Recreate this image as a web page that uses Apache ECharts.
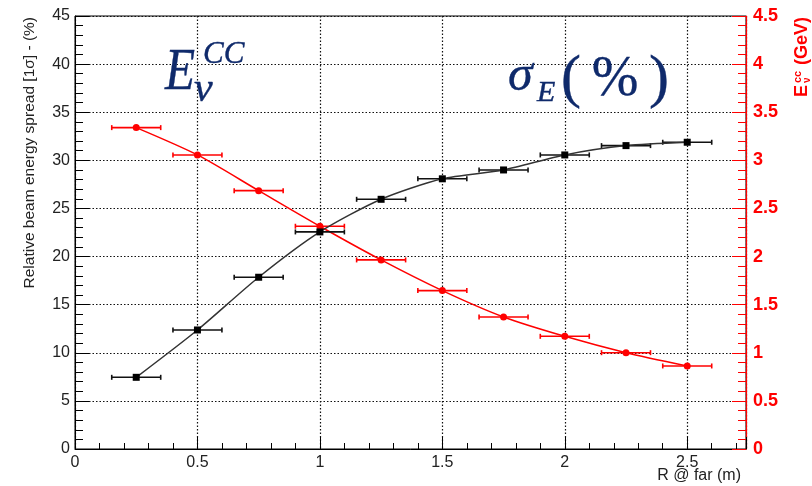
<!DOCTYPE html>
<html>
<head>
<meta charset="utf-8">
<script src="https://cdn.jsdelivr.net/npm/echarts@6/dist/echarts.min.js"></script>
<style>
html,body{margin:0;padding:0;background:#fff;}
#chart{width:812px;height:486px;}
</style>
</head>
<body>
<div id="chart"></div>
<script>
// ---- data ----
const radius = [0.25, 0.5, 0.75, 1.0, 1.25, 1.5, 1.75, 2.0, 2.25, 2.5];      // R @ far (m)
const spreadPct = [7.45, 12.37, 17.85, 22.56, 25.95, 28.08, 29.0, 30.56, 31.53, 31.88]; // left axis (%)
const energyGeV = [3.34, 3.056, 2.685, 2.315, 1.965, 1.646, 1.372, 1.171, 1.001, 0.863]; // right axis (GeV)
const radiusErr = [0.1, 0.1, 0.1, 0.1, 0.1, 0.1, 0.1, 0.1, 0.1, 0.1];
const xTicks = [0, 0.5, 1, 1.5, 2, 2.5];
const leftTitle = 'Relative beam energy spread [1σ] - (%)';
const xTitle = 'R @ far (m)';

const NAVY = '#0f2a6b';
const chart = echarts.init(document.getElementById('chart'), null, {renderer: 'canvas'});

const blackPts = radius.map((x, i) => [x, spreadPct[i]]);
const redPts = radius.map((x, i) => [x, energyGeV[i]]);
const blackErr = radius.map((x, i) => [x, spreadPct[i], radiusErr[i]]);
const redErr = radius.map((x, i) => [x, energyGeV[i], radiusErr[i]]);

function errRender(color) {
  return function (params, api) {
    const x = api.value(0), y = api.value(1), e = api.value(2);
    const p1 = api.coord([x - e, y]);
    const p2 = api.coord([x + e, y]);
    const st = {stroke: color, lineWidth: 1.6};
    return {
      type: 'group',
      children: [
        {type: 'line', shape: {x1: p1[0], y1: p1[1], x2: p2[0], y2: p2[1]}, style: st},
        {type: 'line', shape: {x1: p1[0], y1: p1[1] - 2.5, x2: p1[0], y2: p1[1] + 2.5}, style: st},
        {type: 'line', shape: {x1: p2[0], y1: p2[1] - 2.5, x2: p2[0], y2: p2[1] + 2.5}, style: st}
      ]
    };
  };
}

const isTick = v => xTicks.some(t => Math.abs(t - v) < 1e-6);
const gridDots = {color: '#111', type: [1.5, 2], width: 1.2};
const navyText = (txt, font) => ({text: txt, fill: NAVY, stroke: NAVY, lineWidth: 0.4, font: font, textAlign: 'left', textVerticalAlign: 'middle'});

const option = {
  animation: false,
  backgroundColor: '#fff',
  grid: {left: 75, right: 66, top: 16, bottom: 37, show: true, borderColor: '#000', borderWidth: 1},
  xAxis: {
    type: 'value', min: 0, max: 2.74, interval: 0.5,
    axisLine: {show: true, lineStyle: {color: '#000', width: 1}},
    axisTick: {show: true, inside: true, length: 12, lineStyle: {color: '#000'}},
    minorTick: {show: true, splitNumber: 5, length: 6, lineStyle: {color: '#000'}},
    axisLabel: {
      show: true, margin: 6, color: '#222', fontSize: 16, fontFamily: 'Liberation Sans',
      formatter: v => isTick(v) ? String(v) : ''
    },
    splitLine: {show: true, lineStyle: gridDots}
  },
  yAxis: [
    {
      type: 'value', min: 0, max: 45, interval: 5, position: 'left',
      axisLine: {show: true, lineStyle: {color: '#000', width: 1}},
      axisTick: {show: true, inside: true, length: 14, lineStyle: {color: '#000'}},
      minorTick: {show: true, splitNumber: 5, length: 8, lineStyle: {color: '#000'}},
      axisLabel: {margin: 5, color: '#222', fontSize: 16, fontFamily: 'Liberation Sans'},
      splitLine: {show: true, lineStyle: gridDots}
    },
    {
      type: 'value', min: 0, max: 4.5, interval: 0.5, position: 'right',
      axisLine: {show: true, lineStyle: {color: '#ff0000', width: 1.2}},
      axisTick: {show: true, inside: true, length: 14, lineStyle: {color: '#ff0000'}},
      minorTick: {show: true, splitNumber: 5, length: 8, lineStyle: {color: '#ff0000'}},
      axisLabel: {margin: 7, color: '#ff0000', fontSize: 18, fontWeight: 'bold', fontFamily: 'Liberation Sans'},
      splitLine: {show: false}
    }
  ],
  series: [
    {
      type: 'line', yAxisIndex: 1, data: redPts, smooth: 0.25,
      lineStyle: {color: '#ff0000', width: 1.5},
      symbol: 'circle', symbolSize: 7,
      itemStyle: {color: '#ff0000'}, z: 3
    },
    {
      type: 'custom', yAxisIndex: 1, data: redErr, renderItem: errRender('#ff0000'),
      encode: {x: 0, y: 1}, z: 3
    },
    {
      type: 'line', yAxisIndex: 0, data: blackPts, smooth: 0.25,
      lineStyle: {color: '#333', width: 1.5},
      symbol: 'rect', symbolSize: 7,
      itemStyle: {color: '#000'}, z: 4
    },
    {
      type: 'custom', yAxisIndex: 0, data: blackErr, renderItem: errRender('#111'),
      encode: {x: 0, y: 1}, z: 4
    }
  ],
  graphic: [
    // left axis title
    {
      type: 'text', x: 30, y: 17, rotation: Math.PI / 2,
      style: {text: leftTitle, fill: '#222', font: '15.5px "Liberation Sans"', textAlign: 'right', textVerticalAlign: 'middle'}
    },
    // x axis title
    {
      type: 'text', x: 741, y: 476,
      style: {text: xTitle, fill: '#222', font: '16px "Liberation Sans"', textAlign: 'right', textVerticalAlign: 'middle'}
    },
    // right axis title (rotated group)
    {
      type: 'group', x: 802, y: 17, rotation: Math.PI / 2,
      children: [
        {type: 'text', x: 0, y: 0, style: {text: '(GeV)', fill: '#ff0000', font: 'bold 18px "Liberation Sans"', textAlign: 'right', textVerticalAlign: 'middle'}},
        {type: 'text', x: -80, y: 0, style: {text: 'E', fill: '#ff0000', font: 'bold 18px "Liberation Sans"', textAlign: 'left', textVerticalAlign: 'middle'}},
        {type: 'text', x: -66, y: -4, style: {text: 'cc', fill: '#ff0000', font: 'bold 11px "Liberation Sans"', textAlign: 'left', textVerticalAlign: 'middle'}},
        {type: 'text', x: -66, y: 5, style: {text: 'ν', fill: '#ff0000', font: 'bold 10px "Liberation Sans"', textAlign: 'left', textVerticalAlign: 'middle'}}
      ]
    },
    // annotation E_nu^CC
    {type: 'text', x: 165, y: 73, z: 10, scaleX: 0.82, style: navyText('E', 'italic 60px "Liberation Serif"')},
    {type: 'text', x: 203, y: 55, z: 10, style: navyText('CC', 'italic 31px "Liberation Serif"')},
    {type: 'text', x: 194, y: 90, z: 10, style: navyText('ν', 'italic 42px "Liberation Serif"')},
    // annotation sigma_E (%)
    {type: 'text', x: 508, y: 77, z: 10, style: navyText('σ', 'italic 50px "Liberation Serif"')},
    {type: 'text', x: 537, y: 93, z: 10, style: navyText('E', 'italic 30px "Liberation Serif"')},
    {type: 'text', x: 561, y: 80, z: 10, style: navyText('(', '60px "Liberation Serif"')},
    {type: 'text', x: 615, y: 80, z: 10, style: Object.assign(navyText('%', '56px "Liberation Serif"'), {textAlign: 'center'})},
    {type: 'text', x: 669, y: 80, z: 10, style: Object.assign(navyText(')', '60px "Liberation Serif"'), {textAlign: 'right'})}
  ]
};
chart.setOption(option);
</script>
</body>
</html>
